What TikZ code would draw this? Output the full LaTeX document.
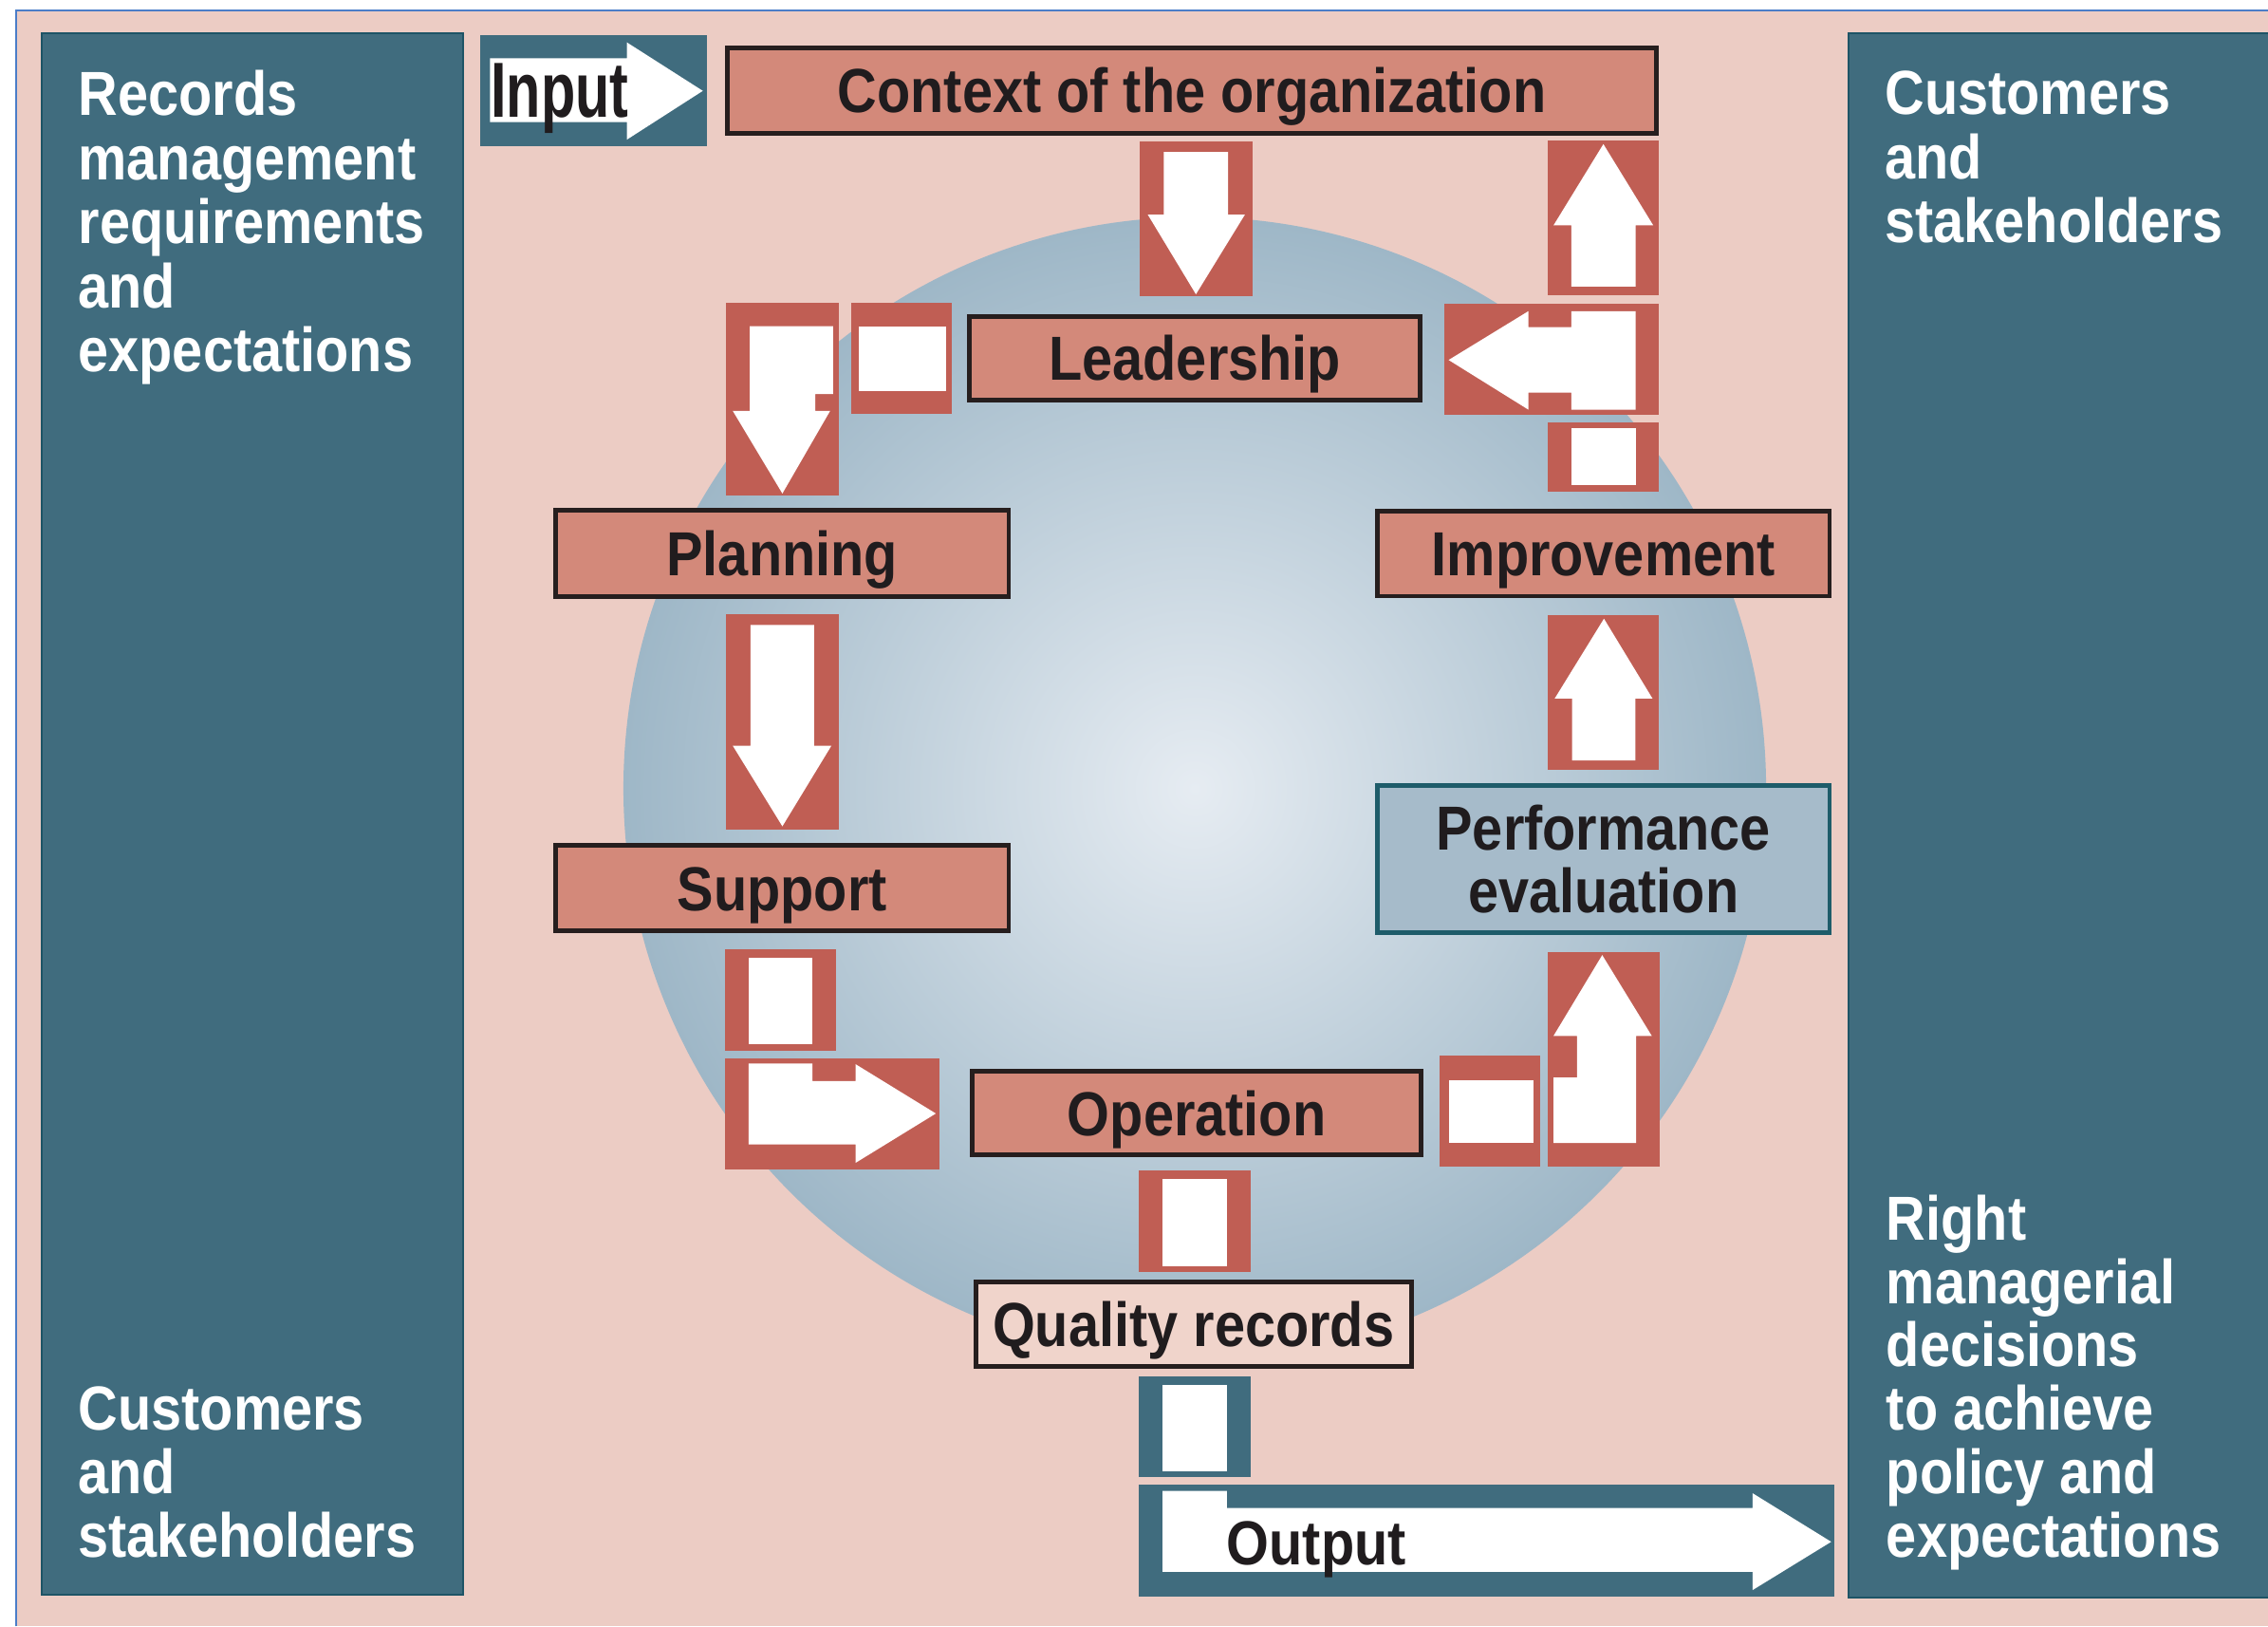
\documentclass[tikz,border=0pt]{standalone}
\usepackage{fontspec}
\setmainfont{Liberation Sans}[FakeStretch=0.88]
\usepackage{graphicx}
\definecolor{bgpink}{RGB}{236,204,196}
\definecolor{pteal}{RGB}{64,108,126}
\definecolor{ptealdark}{RGB}{30,84,102}
\definecolor{arrred}{RGB}{192,94,84}
\definecolor{procfill}{RGB}{211,137,122}
\definecolor{boxline}{RGB}{38,30,30}
\definecolor{perffill}{RGB}{166,187,202}
\definecolor{perfline}{RGB}{30,92,106}
\definecolor{qualfill}{RGB}{240,212,203}
\definecolor{circin}{RGB}{230,236,242}
\definecolor{circout}{RGB}{158,183,199}
\definecolor{txtdark}{RGB}{32,28,30}
\definecolor{frameblue}{RGB}{75,125,200}
\newcommand\bxfont{\fontsize{43}{44}\selectfont\bfseries}
\newcommand\pffont{\fontsize{43}{43.2}\selectfont\bfseries}
\newcommand\inpfont{\fontsize{54}{56}\selectfont\bfseries}
\begin{document}
\begin{tikzpicture}[x=1pt,y=-1pt,
  proc/.style={draw=boxline, line width=3.2pt, fill=procfill, inner sep=0pt,
    text=txtdark, font=\bxfont, text height=30.8pt, text depth=0pt},
  panel/.style={fill=pteal, draw=ptealdark, line width=1.5pt},
  ptext/.style={anchor=base west, inner sep=0pt, text=white, font=\bxfont},
  redbox/.style={fill=arrred},
  tealbox/.style={fill=pteal},
  wshape/.style={fill=white}]
\useasboundingbox (0,0) rectangle (1568,1124);
\fill[white] (0,0) rectangle (1568,1124);
\fill[bgpink] (11,7) rectangle (1568,1124);
\draw[frameblue, line width=1.2pt] (11,1124) -- (11,7) -- (1568,7);

% side panels
\path[panel] (29,23) rectangle (320,1102);
\path[panel] (1278,23) rectangle (1580,1104);

% circle
\shade[inner color=circin, outer color=circout] (826,545) circle[radius=395];

% input arrow
\fill[tealbox] (332,24) rectangle (489,101);
\fill[wshape] (338.7,40.3) -- (433.4,40.3) -- (433.4,29.3) -- (485.9,62.8) -- (433.4,96.5) -- (433.4,84.4) -- (338.7,84.4) -- cycle;
\node[anchor=base, inner sep=0pt, text=txtdark, font=\inpfont] (inp) at (387,80.9) {\scalebox{0.82}[1]{Input}};

% context -> leadership
\fill[redbox] (787.8,98) rectangle (865.7,205);
\fill[wshape] (804.5,105) -- (849,105) -- (849,148.3) -- (860.7,148.3) -- (826.8,203.4) -- (793.5,148.3) -- (804.5,148.3) -- cycle;

% leadership -> planning
\fill[redbox] (588.6,209.3) rectangle (658,286.3);
\fill[wshape] (593.6,225.4) rectangle (654,270);
\fill[redbox] (502.2,209.3) rectangle (579.8,342.5);
\fill[wshape] (518.3,225.4) -- (576,225.4) -- (576,272.3) -- (563.7,272.3) -- (563.7,284) -- (573.9,284) -- (540.9,341.1) -- (506.6,284) -- (518.3,284) -- cycle;

% planning -> support
\fill[redbox] (502.2,424.6) rectangle (579.8,573.4);
\fill[wshape] (518.9,432) -- (562.8,432) -- (562.8,515.4) -- (574.8,515.4) -- (540.9,571.1) -- (506.6,515.4) -- (518.9,515.4) -- cycle;

% support -> operation
\fill[redbox] (501.2,655.9) rectangle (577.9,726.2);
\fill[wshape] (517.5,661.7) rectangle (561.6,721.7);
\fill[redbox] (501.2,731.3) rectangle (649.7,808);
\fill[wshape] (517.5,735.1) -- (561.6,735.1) -- (561.6,747.2) -- (591.5,747.2) -- (591.5,735.5) -- (647,769.6) -- (591.5,803.7) -- (591.5,791) -- (517.5,791) -- cycle;

% operation -> performance
\fill[redbox] (995.1,729.7) rectangle (1064.8,806.3);
\fill[wshape] (1001.6,746.3) rectangle (1060.4,790);
\fill[redbox] (1070.2,657.9) rectangle (1147.4,806.3);
\fill[wshape] (1074,790) -- (1074,744.7) -- (1090.3,744.7) -- (1090.3,716) -- (1074,716) -- (1107.7,660.1) -- (1142,716) -- (1131.1,716) -- (1131.1,790) -- cycle;

% performance -> improvement
\fill[redbox] (1070.2,424.8) rectangle (1147,531.9);
\fill[wshape] (1086.8,525.6) -- (1086.8,482.7) -- (1074.9,482.7) -- (1108.9,427.6) -- (1142.4,482.7) -- (1130.6,482.7) -- (1130.6,525.6) -- cycle;

% improvement -> leadership / context
\fill[redbox] (1070,291.7) rectangle (1147,339.8);
\fill[wshape] (1086.4,295.7) rectangle (1130.8,335.1);
\fill[redbox] (998.6,209.7) rectangle (1147,287);
\fill[wshape] (1001.5,248.8) -- (1056.6,215.1) -- (1056.6,226.1) -- (1086.4,226.1) -- (1086.4,215.1) -- (1130.8,215.1) -- (1130.8,283.1) -- (1086.4,283.1) -- (1086.4,271.3) -- (1056.6,271.3) -- (1056.6,283.1) -- cycle;
\fill[redbox] (1070,97) rectangle (1147,204);
\fill[wshape] (1086.4,198) -- (1086.4,155.8) -- (1074,155.8) -- (1108.5,99.6) -- (1143,155.8) -- (1130.8,155.8) -- (1130.8,198) -- cycle;

% operation -> quality records
\fill[redbox] (787.3,809.2) rectangle (864.6,878.8);
\fill[wshape] (803.7,815) rectangle (848.2,875);

% quality records -> output
\fill[tealbox] (787.3,951.6) rectangle (864.6,1020.9);
\fill[wshape] (803.7,957) rectangle (848.2,1016.7);
\fill[tealbox] (787.3,1026.3) rectangle (1268.2,1103.3);
\fill[wshape] (803.7,1030.4) -- (848.2,1030.4) -- (848.2,1042.2) -- (1211.6,1042.2) -- (1211.6,1032) -- (1266,1065.6) -- (1211.6,1099) -- (1211.6,1086.3) -- (803.7,1086.3) -- cycle;
\node[anchor=base west, inner sep=0pt, text=txtdark, font=\bxfont] (outp) at (848,1081.5) {Output};

% process boxes
\node[proc, minimum width=642.8pt, minimum height=58.9pt] (ctx) at (824,62.65) {Context of the organization};
\node[proc, minimum width=311.8pt, minimum height=57.8pt] (lead) at (826.1,247.5) {Leadership};
\node[proc, minimum width=313.3pt, minimum height=59.8pt] (plan) at (540.75,382.5) {Planning};
\node[proc, minimum width=313.3pt, minimum height=59pt] (supp) at (540.75,613.9) {Support};
\node[proc, minimum width=310.7pt, minimum height=57.8pt] (oper) at (827.35,769.4) {Operation};
\node[proc, fill=qualfill, minimum width=301pt, minimum height=58.2pt] (qual) at (825.1,915.2) {Quality records};
\node[proc, minimum width=312.6pt, minimum height=58.9pt] (impr) at (1108.6,382.55) {Improvement};
\node[draw=perfline, line width=3pt, fill=perffill, inner sep=0pt, text=txtdark, font=\pffont,
  align=center, minimum width=312.8pt, minimum height=102pt] (perf) at (1108.6,593.75) {Performance\\evaluation};

% panel texts
\node[ptext] (l1) at (54,79.7) {Records};
\node[ptext] (l2) at (54,124) {management};
\node[ptext] (l3) at (54,168.3) {requirements};
\node[ptext] (l4) at (54,212.6) {and};
\node[ptext] (l5) at (54,256.9) {expectations};
\node[ptext] (lb1) at (54,988.3) {Customers};
\node[ptext] (lb2) at (54,1032.2) {and};
\node[ptext] (lb3) at (54,1076) {stakeholders};
\node[ptext] (r1) at (1303,79.2) {Customers};
\node[ptext] (r2) at (1303,123.5) {and};
\node[ptext] (r3) at (1303,167.8) {stakeholders};
\node[ptext] (rb1) at (1304,857) {Right};
\node[ptext] (rb2) at (1304,900.8) {managerial};
\node[ptext] (rb3) at (1304,944.6) {decisions};
\node[ptext] (rb4) at (1304,988.4) {to achieve};
\node[ptext] (rb5) at (1304,1032.2) {policy and};
\node[ptext] (rb6) at (1304,1076) {expectations};
\end{tikzpicture}
\end{document}
